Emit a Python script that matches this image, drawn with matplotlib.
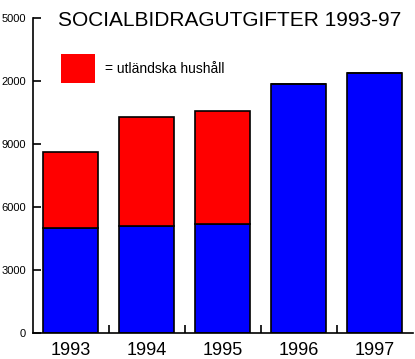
import matplotlib.pyplot as plt
from matplotlib.patches import Rectangle

plt.rcParams['font.family'] = ['Liberation Sans', 'DejaVu Sans']

years = ["1993", "1994", "1995", "1996", "1997"]
# kronor, totalt och varav utländska hushåll (röd del)
total = [8650, 10300, 10590, 11860, 12380]
svenska = [5000, 5095, 5190, 11860, 12380]
utlandska = [t - s for t, s in zip(total, svenska)]

ytick_vals = [0, 3000, 6000, 9000, 12000, 15000]
ytick_labels = ["0", "3000", "6000", "9000", "2000", "5000"]

fig = plt.figure(figsize=(4.15, 3.59), dpi=100)
ax = fig.add_axes([0.079, 0.0716, 0.9157, 0.8774])

x = range(len(years))
ax.bar(x, svenska, width=0.72, color='#0000ff', edgecolor='black', linewidth=1.2)
ax.bar(x, utlandska, width=0.72, bottom=svenska, color='#ff0000',
       edgecolor='black', linewidth=1.2)

ax.set_xlim(-0.5, 4.5)
ax.set_ylim(0, 15000)

ax.spines['top'].set_visible(False)
ax.spines['right'].set_visible(False)
ax.spines['left'].set_linewidth(1.2)
ax.spines['bottom'].set_linewidth(1.2)

ax.set_yticks(ytick_vals)
ax.set_yticklabels(ytick_labels, fontsize=8)
ax.tick_params(axis='y', direction='in', length=6, width=1.2, pad=5)

ax.set_xticks(list(x))
ax.set_xticklabels(years, fontsize=13)
ax.tick_params(axis='x', which='major', length=0, pad=6)
ax.set_xticks([0.5, 1.5, 2.5, 3.5], minor=True)
ax.tick_params(axis='x', which='minor', direction='in', length=6, width=1.2)

fig.text(230 / 415, 1 - 21 / 359, "SOCIALBIDRAGUTGIFTER 1993-97",
         fontsize=15, ha='center', va='center')

fig.patches.append(Rectangle((61 / 415, 1 - 83 / 359), 34 / 415, 29 / 359,
                             transform=fig.transFigure, facecolor='#ff0000',
                             edgecolor='none'))
fig.text(105 / 415, 1 - 69 / 359, "= utländska hushåll", fontsize=10,
         ha='left', va='center')

fig.savefig("out.png", dpi=100)
